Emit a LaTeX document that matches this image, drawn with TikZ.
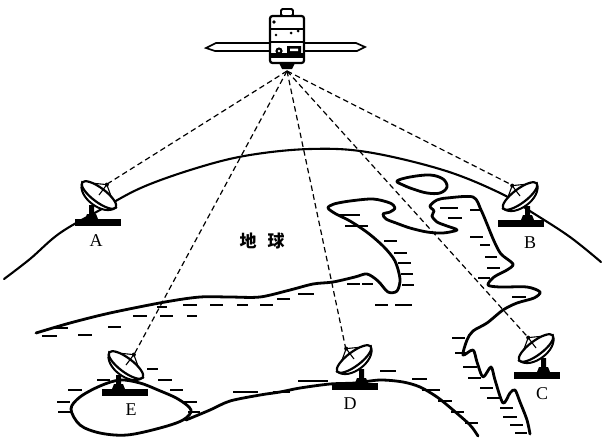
\documentclass[tikz,border=0pt]{standalone}
\usepackage{fontspec}
\setmainfont{Liberation Serif}
\newfontfamily\cjk{Noto Sans CJK SC}
\begin{document}
\begin{tikzpicture}[x=1pt,y=-1pt,
  coast/.style={line width=2.8pt, line cap=round, line join=round},
  horizon/.style={line width=2.1pt, line cap=round},
  beam/.style={line width=1.2pt, dash pattern=on 5.5pt off 3.5pt},
  hatch/.style={line width=1.2pt},
  lbl/.style={font=\fontsize{18}{18}\selectfont, inner sep=0pt},
  cjklbl/.style={font=\cjk\bfseries\fontsize{17}{17}\selectfont, inner sep=0pt},
  dish/.pic={
    % base bar and pedestal
    \fill (-23,0) rectangle (23,6.5);
    \fill (-13,0) -- (0,0) -- (-2,-5) -- (-4,-5) -- (-4,-14) -- (-9,-14)
          -- (-9,-5) -- (-11,-5) -- cycle;
    % reflector, tilted towards the satellite
    \begin{scope}[shift={(1,-24)}, rotate=-37]
      \draw[line width=2pt, fill=white]
        (-21,0) .. controls (-17,15) and (17,15) .. (21,0) -- cycle;
      \draw[line width=2.2pt, fill=white] (0,0) ellipse [x radius=21, y radius=7];
      \draw[line width=1.1pt] (-12,-5.7) -- (0,-13) -- (11,-5.9);
      \draw[line width=1.1pt] (0,0) -- (0,-13);
      \fill (0,-13) circle (2);
      \coordinate (-feed) at (0,-14);
    \end{scope}
  }]

\useasboundingbox (0,0) rectangle (604,439);
\fill[white] (0,0) rectangle (604,439);

% satellite
\coordinate (sat) at (287,71);
\draw[line width=1.7pt, fill=white] (270,43) -- (216,43) -- (206,48) -- (215,51) -- (270,51) -- cycle;
\draw[line width=1.7pt, fill=white] (304,43) -- (356,43) -- (365,47) -- (357,51) -- (304,51) -- cycle;
\fill (278,61) -- (296,61) -- (292,69) -- (282,69) -- cycle;
\draw[line width=2.2pt, fill=white, rounded corners=2.5pt] (270,16) rectangle (304,63);
\draw[line width=1.9pt, fill=white, rounded corners=1.5pt] (281,9) rectangle (293,16);
\draw[line width=1.7pt] (270,29) -- (304,29) (270,42) -- (304,42);
\fill (270,53) rectangle (304,58);
\fill (279,51) circle (3.6) (287,46) rectangle (301,54);
\fill[white] (279,51) circle (1.3) (290,48.5) rectangle (298,51);
\fill (274,22) circle (1.8) (291,33) circle (1.5) (298,31) circle (1.5) (276,35) circle (1.3);

% horizon of the Earth
\draw[horizon] plot[smooth, tension=0.6] coordinates {
  (4,279) (30,259) (60,233) (100,210) (143,187) (200,167) (250,155)
  (310,149) (367,152) (443,170) (500,193) (533,213) (570,237) (601,262)};

% coastline: western land, inlet, spit and eastern land
\draw[coast] plot[smooth, tension=0.5] coordinates {
  (36,333) (70,323) (110,313) (165,302) (200,297) (230,297) (260,297)
  (290,290) (313,284) (333,282) (355,277) (367,274) (378,281) (388,292)
  (397,291) (400,279) (395,261) (384,247) (368,233) (350,221) (336,214)
  (328,208) (334,204) (350,201) (373,199) (390,203) (395,208) (390,212)
  (383,214) (386,219) (396,223) (410,228) (427,232) (443,233) (457,230)
  (447,226) (437,222) (432,216) (434,211) (430,206) (437,200) (447,198)
  (473,197) (481,210) (487,224) (494,241) (501,254) (513,264) (507,270)
  (494,277) (488,285) (500,287) (527,287) (540,292) (534,298) (517,303)
  (503,310) (487,323) (473,331) (467,340) (463,355) (473,350) (477,362)
  (483,377) (491,367) (495,380) (503,403) (510,393) (515,390) (520,402)
  (527,420) (530,434)};

% island
\draw[coast] plot[smooth cycle, tension=0.6] coordinates {
  (397,181) (410,177) (430,175) (443,179) (447,187) (440,193) (427,193)
  (413,189) (403,185)};

% southern coast through station D
\draw[coast] plot[smooth, tension=0.5] coordinates {
  (186,420) (210,410) (230,401) (260,395) (280,392) (300,388) (330,384)
  (355,383) (380,380) (403,382) (420,387) (437,397) (453,410) (470,425)
  (478,436)};

% island of station E
\draw[coast] plot[smooth cycle, tension=0.55] coordinates {
  (71,409) (80,397) (100,386) (120,380) (140,383) (158,390) (178,399)
  (191,410) (183,420) (160,428) (127,435) (100,433) (80,425)};

% water hatching
\foreach \a/\b/\y in {
  42/57/336, 78/92/335, 55/68/328, 108/121/327,
  133/147/316, 160/173/316, 187/197/316,
  157/167/307, 183/197/305, 210/223/305, 237/248/305, 260/273/305,
  277/290/299, 298/314/294, 347/360/284, 362/373/284,
  375/388/305, 395/412/305,
  384/397/241, 394/407/253, 398/411/263, 401/413/274, 402/414/285,
  338/360/215, 345/368/226,
  440/458/208, 448/462/218, 470/480/210, 470/483/237, 480/490/245,
  485/497/257, 487/500/268, 478/490/278,
  512/526/297,
  452/465/338, 455/467/353, 463/477/367, 468/481/378, 480/493/388,
  487/500/398, 500/513/408, 503/517/417, 510/523/425, 515/527/433,
  412/427/379, 422/440/390, 438/452/401, 451/464/412, 465/478/423,
  380/396/371, 298/328/381, 233/258/392, 273/290/392,
  57/70/402, 58/72/412, 68/82/390, 97/110/380, 147/158/369,
  158/172/380, 170/183/390, 183/197/402, 188/200/412}
  \draw[hatch] (\a,\y) -- (\b,\y);

% ground stations
\pic (A) at (98,219) {dish};
\pic[xscale=-1] (B) at (521,220) {dish};
\pic[xscale=-1] (C) at (537,372) {dish};
\pic[xscale=-1] (D) at (355,383) {dish};
\pic (E) at (125,389) {dish};

% beams from the satellite to the ground stations
\foreach \s in {A,B,C,D,E}
  \draw[beam] (sat) -- (\s-feed);

% labels
\node[lbl] (labA) at (96,241) {A};
\node[lbl] (labB) at (530,243) {B};
\node[lbl] (labC) at (542,394) {C};
\node[lbl] (labD) at (350,404) {D};
\node[lbl] (labE) at (131,410) {E};
\node[cjklbl] (earth1) at (248,241) {地};
\node[cjklbl] (earth2) at (276,241) {球};
\end{tikzpicture}
\end{document}
